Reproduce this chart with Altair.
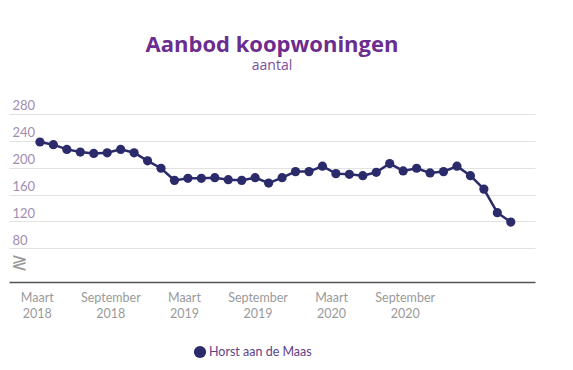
import altair as alt
import pandas as pd

# Monthly values, March 2018 .. February 2021 (36 points)
values = [238, 234, 227, 223, 221, 222, 227, 222, 210, 199,
          181, 184, 184, 185, 182, 181, 185, 177, 185, 194,
          194, 202, 191, 190, 188, 193, 206, 195, 199, 192,
          194, 202, 188, 168, 133, 119]
series_name = "Horst aan de Maas"
tick_pos = [-0.2, 5.27, 10.74, 16.21, 21.68, 27.15]
tick_line1 = ["Maart", "September", "Maart", "September", "Maart", "September"]
tick_line2 = ["2018", "2018", "2019", "2019", "2020", "2020"]
y_ticks = [80, 120, 160, 200, 240, 280]

NAVY = "#2b2b6c"
df = pd.DataFrame({"i": list(range(len(values))), "v": values, "s": series_name})
ticks_df = pd.DataFrame({"p": tick_pos, "l1": tick_line1, "l2": tick_line2})

W, H = 526, 175
xscale = alt.Scale(domain=[-2.3, 36.8], nice=False, zero=False)
yscale = alt.Scale(domain=[30, 290], nice=False, zero=False)

y_axis = alt.Axis(values=y_ticks, tickCount=20, title=None, domain=False, ticks=False,
                  tickSize=0, grid=True, gridColor="#e2e2e2", gridWidth=1.2,
                  labelAlign="left", labelBaseline="alphabetic", labelPadding=-3,
                  labelOffset=-4, labelColor="#a08cb4", labelFontSize=13,
                  labelFont="Lato", labelOverlap=False, labelFlush=False)

x_enc = alt.X("i:Q", scale=xscale,
              axis=alt.Axis(labels=False, ticks=False, grid=False, title=None,
                            domain=True, domainColor="#555555", domainWidth=1.5))
y_enc = alt.Y("v:Q", scale=yscale, axis=y_axis)

line = alt.Chart(df).mark_line(color=NAVY, strokeWidth=2.5).encode(x=x_enc, y=y_enc)
pts = alt.Chart(df).mark_circle(size=85, opacity=1).encode(
    x=x_enc,
    y=y_enc,
    color=alt.Color("s:N", scale=alt.Scale(range=[NAVY]),
                    legend=alt.Legend(title=None, orient="none", legendX=184, legendY=238,
                                      symbolSize=150, symbolType="circle",
                                      labelFontSize=12.5, labelColor="#5e3f87",
                                      labelFont="Lato", labelOffset=2)),
)

lab1 = alt.Chart(ticks_df).mark_text(font="Lato", fontSize=12.5, color="#9a9a9a",
                                      baseline="alphabetic").encode(
    x=alt.X("p:Q", scale=xscale), y=alt.value(H + 20), text="l1:N")
lab2 = alt.Chart(ticks_df).mark_text(font="Lato", fontSize=12.5, color="#9a9a9a",
                                      baseline="alphabetic").encode(
    x=alt.X("p:Q", scale=xscale), y=alt.value(H + 36), text="l2:N")

brk = alt.Chart(pd.DataFrame({"t": ["≷"]})).mark_text(
    fontSize=20, color="#9a9a9a", align="center", baseline="middle").encode(
    x=alt.value(10), y=alt.value(156), text="t:N")

chart = alt.layer(line, pts, lab1, lab2, brk).properties(
    width=W, height=H,
    autosize=alt.AutoSizeParams(type="none"),
    padding={"left": 1, "top": 99, "right": 30, "bottom": 80},
    title=alt.TitleParams(text="Aanbod koopwoningen", subtitle="aantal",
                          anchor="middle", frame="group",
                          font="Open Sans", fontSize=22, fontWeight="bold", color="#6b2d8e",
                          subtitleFont="Open Sans", subtitleFontSize=14, subtitleColor="#7d4e9c",
                          subtitlePadding=2, offset=26),
).configure_view(stroke=None)

chart.save("out.html", embed_options={"renderer": "svg", "actions": False})
